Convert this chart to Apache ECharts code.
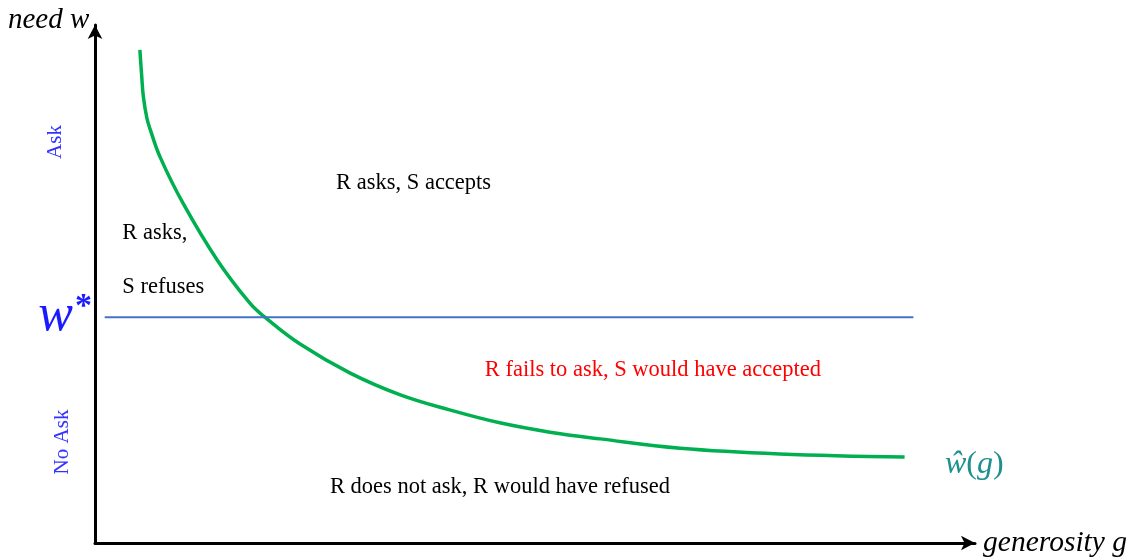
<!DOCTYPE html>
<html>
<head>
<meta charset="utf-8">
<script src="https://cdn.jsdelivr.net/npm/echarts@6/dist/echarts.min.js"></script>
<style>
  html, body { margin: 0; padding: 0; background: #fff; }
  #chart { width: 1137px; height: 560px; }
</style>
</head>
<body>
<div id="chart"></div>
<script>
// 曲线 w-hat(g)，读图估计（横轴 0-100，纵轴 0-100）
const curveG = [5.1, 5.3, 5.5, 5.9, 6.3, 7.4, 10.0, 13.9, 17.6, 19.3, 23.3, 29.0, 34.7, 40.3, 46.0, 51.7, 57.4, 66.5, 77.8, 92.0];
const curveW = [95.2, 90.3, 86.1, 82.0, 79.7, 74.5, 65.6, 54.6, 46.3, 43.6, 38.4, 32.8, 28.6, 25.7, 23.2, 21.4, 20.1, 18.3, 17.2, 16.6];

// 阈值 w*
const wStar = 43.6;
const wStarG = [1.1, 93.0];

// 区域说明文字
const regionText = ['R asks, S accepts', 'R asks,', 'S refuses', 'R fails to ask, S would have accepted', 'R does not ask, R would have refused'];
const regionG    = [27.4, 3.1, 3.1, 44.3, 26.7];
const regionW    = [69.5, 59.8, 49.4, 33.4, 10.8];
const regionColor = ['#000', '#000', '#000', '#ff0000', '#000'];

const SERIF = '"Liberation Serif", "Times New Roman", serif';

const chart = echarts.init(document.getElementById('chart'));

const labelData = regionText.map((t, i) => ({
  value: [regionG[i], regionW[i]],
  label: { formatter: t, color: regionColor[i] },
}));

chart.setOption({
  animation: false,
  grid: { left: 95, top: 25, right: 162, bottom: 17 },
  xAxis: {
    type: 'value', min: 0, max: 100,
    axisLine: { show: true, onZero: true, symbol: ['none', 'arrow'], symbolSize: [11, 14],
      lineStyle: { color: '#000', width: 3 } },
    axisTick: { show: false }, axisLabel: { show: false }, splitLine: { show: false },
  },
  yAxis: {
    type: 'value', min: 0, max: 100,
    axisLine: { show: true, symbol: ['none', 'arrow'], symbolSize: [11, 14],
      lineStyle: { color: '#000', width: 3 } },
    axisTick: { show: false }, axisLabel: { show: false }, splitLine: { show: false },
  },
  series: [
    {
      type: 'line',
      data: curveG.map((g, i) => [g, curveW[i]]),
      smooth: 0.4, showSymbol: false, silent: true,
      lineStyle: { color: '#00b050', width: 3.5 },
    },
    {
      type: 'line',
      data: wStarG.map(g => [g, wStar]),
      showSymbol: false, silent: true,
      lineStyle: { color: '#4472c4', width: 2 },
    },
    {
      type: 'scatter',
      data: labelData,
      symbolSize: 0, silent: true,
      itemStyle: { opacity: 1 },
      label: { show: true, position: 'right', distance: 0, fontFamily: SERIF, fontSize: 22.5 },
    },
  ],
  graphic: [
    { type: 'text', left: 8, top: 6,
      style: { text: 'need w', font: 'italic 29px ' + SERIF, fill: '#000' } },
    { type: 'text', x: 1127, y: 543,
      style: { text: 'generosity g', font: 'italic 29.5px ' + SERIF, fill: '#000', align: 'right', verticalAlign: 'middle' } },
    { type: 'text', x: 55, y: 142, rotation: Math.PI / 2,
      style: { text: 'Ask', font: '21px ' + SERIF, fill: '#3333ff', align: 'center', verticalAlign: 'middle' } },
    { type: 'text', x: 62, y: 442, rotation: Math.PI / 2,
      style: { text: 'No Ask', font: '21px ' + SERIF, fill: '#3333ff', align: 'center', verticalAlign: 'middle' } },
    { type: 'text', x: 92, y: 316,
      style: {
        text: '{w|w}{s|*}', align: 'right', verticalAlign: 'middle',
        rich: {
          w: { fontFamily: SERIF, fontStyle: 'italic', fontSize: 52, fill: '#1a1aff' },
          s: { fontFamily: SERIF, fontWeight: 'bold', fontSize: 34, fill: '#1a1aff', verticalAlign: 'top', padding: [0, 0, 16, 2] },
        },
      } },
    { type: 'text', x: 945, y: 465,
      style: {
        text: '{w|\u0175}{p|(}{w|g}{p|)}', verticalAlign: 'middle',
        rich: {
          w: { fontFamily: SERIF, fontStyle: 'italic', fontSize: 32, fill: '#1f8f8f' },
          p: { fontFamily: SERIF, fontSize: 32, fill: '#1f8f8f' },
        },
      } },
  ],
});
</script>
</body>
</html>
